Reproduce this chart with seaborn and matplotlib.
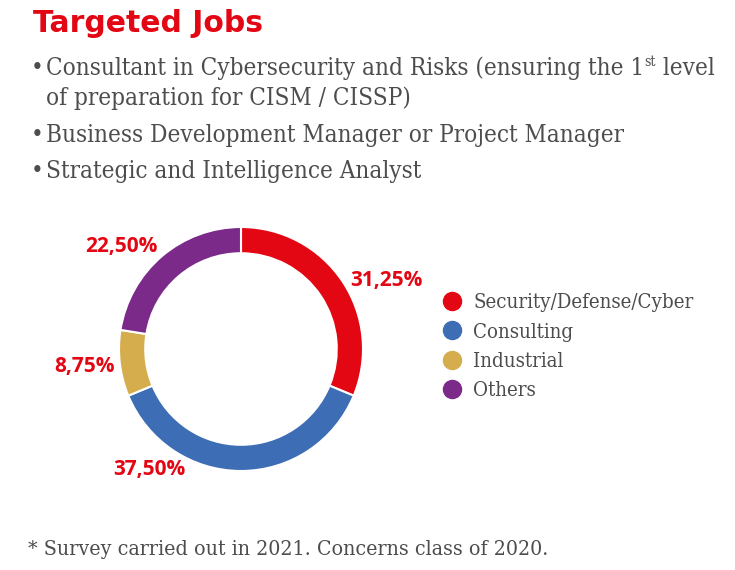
import matplotlib
matplotlib.use("Agg")
import matplotlib.pyplot as plt
from matplotlib import font_manager
from matplotlib.lines import Line2D
import seaborn as sns

# donnees du graphique
categories = ["Security/Defense/Cyber", "Consulting", "Industrial", "Others"]
shares = [31.25, 37.50, 8.75, 22.50]
share_labels = ["31,25%", "37,50%", "8,75%", "22,50%"]
colors = ["#E30613", "#3D6DB5", "#D5AD4D", "#7B2A8A"]
bullets = [
    "Business Development Manager or Project Manager",
    "Strategic and Intelligence Analyst",
]
# position des etiquettes (unites du rayon)
label_pos = [(1.19, 0.56), (-0.75, -0.99), (-1.28, -0.14), (-0.98, 0.84)]

sns.set_theme(style="white")
palette = sns.color_palette(colors)

RED = "#E30613"
GREY = "#4D4D4D"


def serif(size):
    return font_manager.FontProperties(family="DejaVu Serif", stretch="condensed", size=size)


fig = plt.figure(figsize=(7.35, 5.7), dpi=100)

# titre
fig.text(33 / 735, 1 - 32 / 570, "Targeted Jobs", color=RED, fontsize=21.5,
         fontweight="bold", family="DejaVu Sans", va="baseline")

# liste a puces
FS = 17.4
y_px = 75
first = fig.text(46 / 735, 1 - y_px / 570,
                 "Consultant in Cybersecurity and Risks (ensuring the 1",
                 color=GREY, fontproperties=serif(FS), va="baseline")
fig.text(31 / 735, 1 - y_px / 570, "\u2022", color=GREY, fontproperties=serif(FS),
         va="baseline")
fig.canvas.draw()
bb = first.get_window_extent().transformed(fig.transFigure.inverted())
sup = fig.text(bb.x1, 1 - (y_px - 9) / 570, "st", color=GREY,
               fontproperties=serif(10), va="baseline")
fig.canvas.draw()
bb2 = sup.get_window_extent().transformed(fig.transFigure.inverted())
fig.text(bb2.x1, 1 - y_px / 570, " level", color=GREY, fontproperties=serif(FS),
         va="baseline")
fig.text(46 / 735, 1 - 105 / 570, "of preparation for CISM / CISSP)",
         color=GREY, fontproperties=serif(FS), va="baseline")
for i, b in enumerate(bullets):
    yb = 142 + 36 * i
    fig.text(31 / 735, 1 - yb / 570, "\u2022", color=GREY,
             fontproperties=serif(FS), va="baseline")
    fig.text(46 / 735, 1 - yb / 570, b, color=GREY,
             fontproperties=serif(FS), va="baseline")

# donut
R = 122
ax = fig.add_axes([(241 - 200) / 735, (570 - 549) / 570, 400 / 735, 400 / 570])
ax.pie(shares, colors=palette, startangle=90, counterclock=False, radius=1,
       wedgeprops=dict(width=0.215, edgecolor="white", linewidth=1.5))
lim = 200 / R
ax.set_xlim(-lim, lim)
ax.set_ylim(-lim, lim)
ax.set_aspect("equal")
ax.axis("off")
for lab, (x, y) in zip(share_labels, label_pos):
    ax.text(x, y, lab, color=RED, fontsize=15, fontweight="bold",
            family="Open Sans", ha="center", va="center")

# legende
handles = [Line2D([], [], marker="o", linestyle="", markersize=13,
                  markerfacecolor=c, markeredgecolor=c) for c in palette]
fig.legend(handles, categories, loc="upper left",
           bbox_to_anchor=(434 / 735, 1 - 285 / 570), frameon=False,
           prop=serif(14.7), labelcolor=GREY, handlelength=1.0,
           handletextpad=0.52, labelspacing=0.51, borderaxespad=0)

# note
fig.text(28 / 735, 1 - 555 / 570,
         "* Survey carried out in 2021. Concerns class of 2020.",
         color=GREY, fontproperties=serif(15.3), va="baseline")

fig.savefig("out.png", dpi=100)
